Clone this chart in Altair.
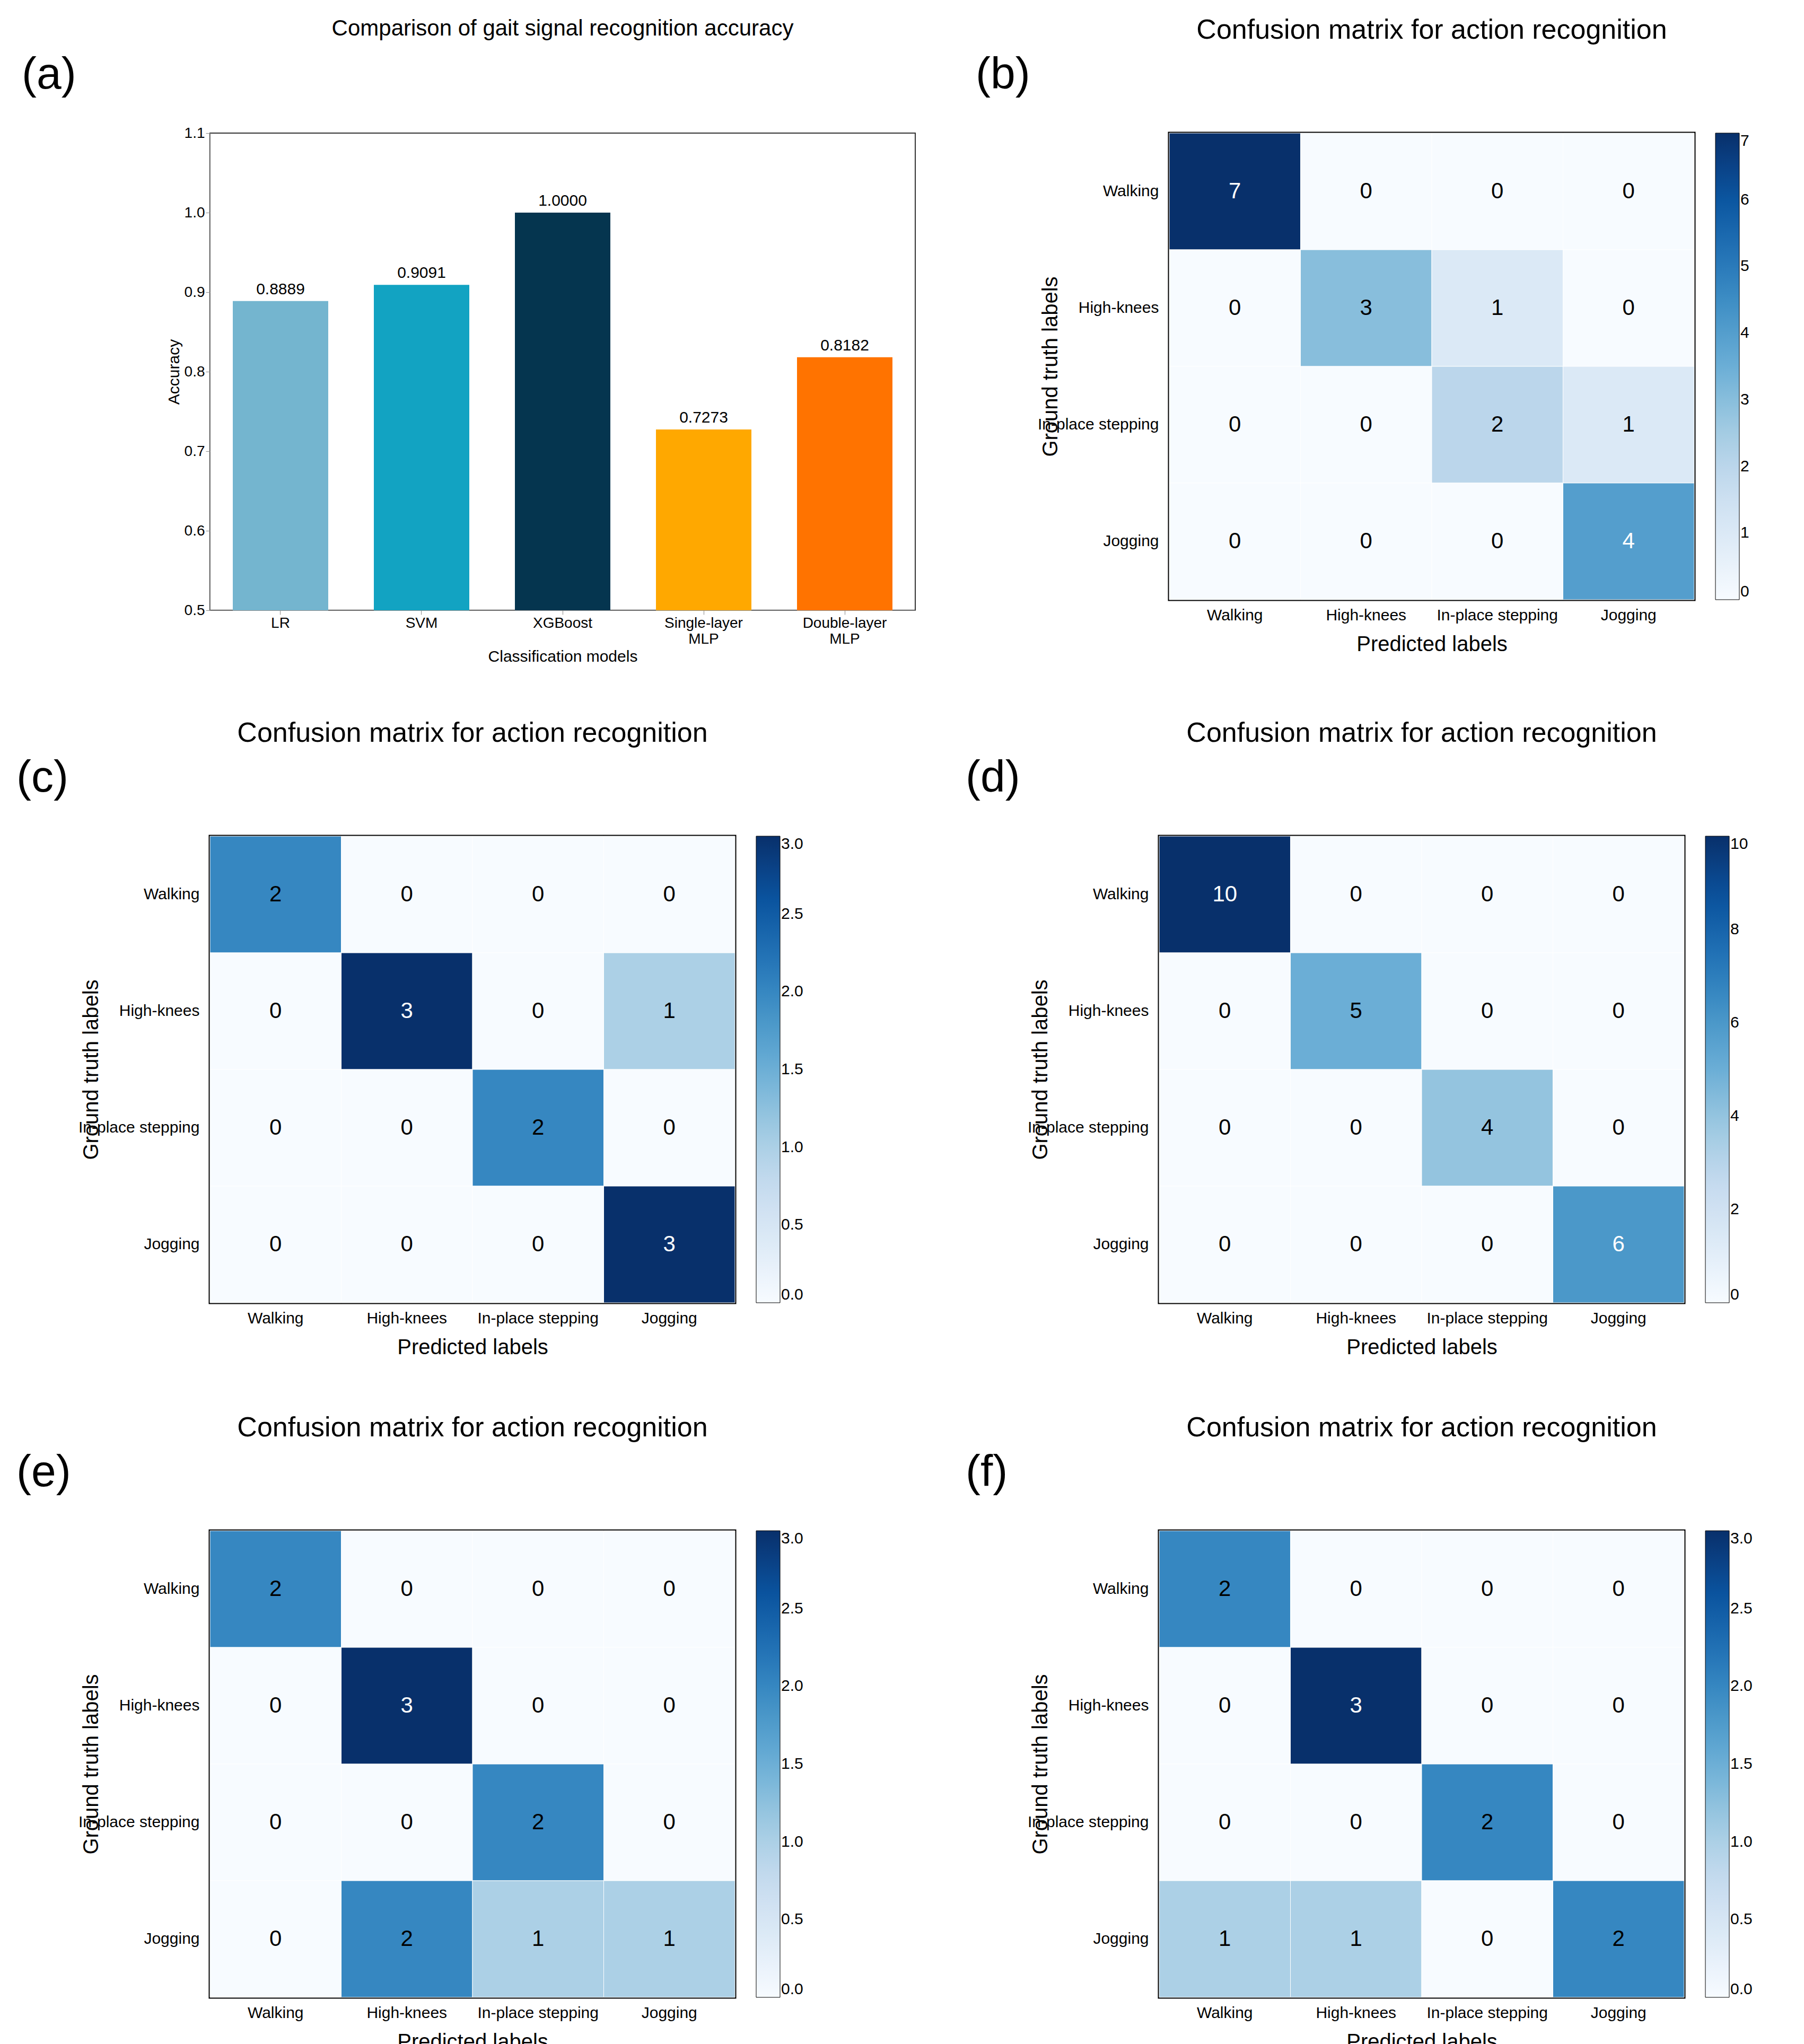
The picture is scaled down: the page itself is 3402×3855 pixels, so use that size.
import altair as alt
import pandas as pd

# bar chart data
models = ["LR", "SVM", "XGBoost", "Single-layer MLP", "Double-layer MLP"]
accuracy = [0.8889, 0.9091, 1.0000, 0.7273, 0.8182]
bar_colors = ["#74b5cf", "#12a3c2", "#05354f", "#ffa800", "#ff7300"]

# confusion matrices (rows = ground truth, cols = predicted)
labels = ["Walking", "High-knees", "In-place stepping", "Jogging"]
cm_b = [[7, 0, 0, 0], [0, 3, 1, 0], [0, 0, 2, 1], [0, 0, 0, 4]]
cm_c = [[2, 0, 0, 0], [0, 3, 0, 1], [0, 0, 2, 0], [0, 0, 0, 3]]
cm_d = [[10, 0, 0, 0], [0, 5, 0, 0], [0, 0, 4, 0], [0, 0, 0, 6]]
cm_e = [[2, 0, 0, 0], [0, 3, 0, 0], [0, 0, 2, 0], [0, 2, 1, 1]]
cm_f = [[2, 0, 0, 0], [0, 3, 0, 0], [0, 0, 2, 0], [1, 1, 0, 2]]
cm_max = {"b": 7, "c": 3, "d": 10, "e": 3, "f": 3}
white_above = {"b": 3.5, "c": 2.5, "d": 5.5, "e": 2.5, "f": 2.5}

FONT = "Liberation Sans"
BLUES = ["#f7fbff", "#deebf7", "#c6dbef", "#9ecae1", "#6baed6",
         "#4292c6", "#2171b5", "#08519c", "#08306b"]


def letter(tag, x, y):
    return alt.Chart(pd.DataFrame({"t": [f"({tag})"]})).mark_text(
        fontSize=84, font=FONT, align="left", baseline="top"
    ).encode(text="t:N", x=alt.value(x), y=alt.value(y))


def bar_panel():
    df = pd.DataFrame({"model": models, "acc": accuracy, "col": bar_colors})
    base = alt.Chart(df).encode(
        x=alt.X("model:N", sort=models, title="Classification models",
                axis=alt.Axis(labelAngle=0, labelExpr="split(datum.label, ' ')",
                              labelFontSize=28, titleFontSize=30, titleFontWeight="normal",
                              labelFont=FONT, titleFont=FONT, tickSize=8, labelLimit=0)),
    )
    bars = base.mark_bar(size=180, clip=True).encode(
        y=alt.Y("acc:Q", scale=alt.Scale(domain=[0.5, 1.1]), title="Accuracy",
                axis=alt.Axis(values=[0.5, 0.6, 0.7, 0.8, 0.9, 1.0, 1.1], format=".1f",
                              grid=False, labelFontSize=28, titleFontSize=30,
                              titleFontWeight="normal", labelFont=FONT, titleFont=FONT,
                              tickSize=8)),
        color=alt.Color("col:N", scale=None),
    )
    txt = base.mark_text(dy=-22, fontSize=30, font=FONT).encode(
        y="acc:Q", text=alt.Text("acc:Q", format=".4f"))
    return alt.layer(bars, txt, letter("a", -355, -150)).properties(
        width=1330, height=900,
        view=alt.ViewConfig(stroke="#333333", strokeWidth=2),
        title=alt.TitleParams("Comparison of gait signal recognition accuracy",
                              fontSize=42, font=FONT, fontWeight="normal", offset=24))


def cm_panel(cm, tag):
    rows = []
    for i, r in enumerate(cm):
        for j, v in enumerate(r):
            rows.append({"truth": labels[i], "pred": labels[j], "v": v})
    df = pd.DataFrame(rows)
    mx = cm_max[tag]
    base = alt.Chart(df).encode(
        x=alt.X("pred:N", sort=labels, title="Predicted labels",
                axis=alt.Axis(labelAngle=0, labelFontSize=30, titleFontSize=40,
                              titleFontWeight="normal", labelFont=FONT, titleFont=FONT,
                              ticks=False, domain=False, labelPadding=14, labelLimit=0,
                              titlePadding=20)),
        y=alt.Y("truth:N", sort=labels, title="Ground truth labels",
                axis=alt.Axis(labelFontSize=30, titleFontSize=40, titleFontWeight="normal",
                              labelFont=FONT, titleFont=FONT, ticks=False, domain=False,
                              labelPadding=20, labelLimit=0)),
    )
    rect = base.mark_rect(stroke="white", strokeWidth=1).encode(
        color=alt.Color("v:Q", scale=alt.Scale(domain=[0, mx], range=BLUES), title=None,
                        legend=alt.Legend(gradientLength=880, gradientThickness=45,
                                          labelFontSize=30, labelFont=FONT,
                                          values=[0, 0.5, 1, 1.5, 2, 2.5, 3] if mx == 3
                                          else ([0, 2, 4, 6, 8, 10] if mx == 10
                                                else list(range(8))),
                                          format=".1f" if mx == 3 else "d",
                                          gradientStrokeColor="black",
                                          gradientStrokeWidth=1, offset=40)))
    txt = base.mark_text(fontSize=42, font=FONT).encode(
        text="v:Q",
        color=alt.condition(f"datum.v > {white_above[tag]}", alt.value("white"),
                            alt.value("black")))
    return alt.layer(rect, txt, letter(tag, -365, -150)).properties(
        width=990, height=880,
        view=alt.ViewConfig(stroke="black", strokeWidth=5),
        title=alt.TitleParams("Confusion matrix for action recognition", fontSize=52,
                              font=FONT, fontWeight="normal", offset=16))


chart = alt.vconcat(
    alt.hconcat(bar_panel(), cm_panel(cm_b, "b"), spacing=110).resolve_scale(color="independent"),
    alt.hconcat(cm_panel(cm_c, "c"), cm_panel(cm_d, "d"), spacing=300).resolve_scale(color="independent"),
    alt.hconcat(cm_panel(cm_e, "e"), cm_panel(cm_f, "f"), spacing=300).resolve_scale(color="independent"),
    spacing=100,
).resolve_scale(color="independent").properties(
    padding={"left": 20, "top": 20, "right": 10, "bottom": 10})

chart.save("out.html", embed_options={"renderer": "svg", "actions": False})
